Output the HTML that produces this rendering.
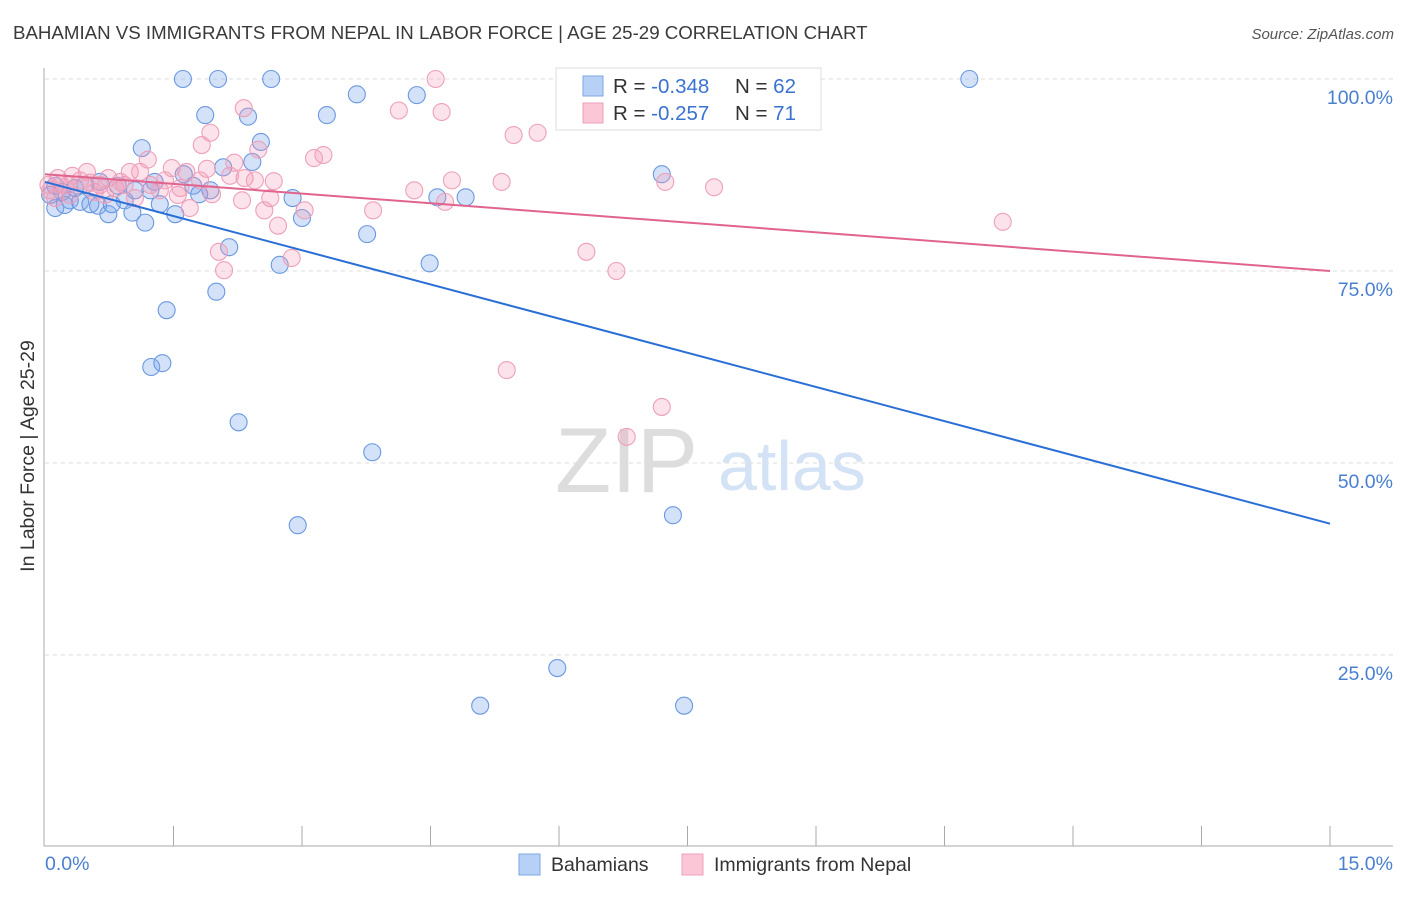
<!DOCTYPE html>
<html><head><meta charset="utf-8"><style>
body{margin:0;background:#fff;font-family:"Liberation Sans",sans-serif}
svg text{font-family:"Liberation Sans",sans-serif}
</style></head><body>
<svg id="c" width="1406" height="892">
<text x="13" y="39" font-size="18.7" fill="#3a3a3a">BAHAMIAN VS IMMIGRANTS FROM NEPAL IN LABOR FORCE | AGE 25-29 CORRELATION CHART</text>
<text x="1394" y="39" font-size="15" fill="#555" font-style="italic" text-anchor="end">Source: ZipAtlas.com</text>
<text x="555" y="492" font-size="92" fill="#ddd" font-family="Liberation Serif">ZIP</text>
<text x="718" y="490" font-size="70" fill="#d3e2f5">atlas</text>
<text transform="translate(34,456) rotate(-90)" font-size="19.5" fill="#333" text-anchor="middle">In Labor Force | Age 25-29</text>
<g id="grid"></g><g id="pts"></g><g id="trend"></g>
<g>
<rect x="556" y="68" width="265" height="62" fill="#fff" stroke="#ddd"/>
<rect x="583" y="76" width="20" height="20" fill="#b7d0f5" stroke="#7ea6e4"/>
<rect x="583" y="103" width="20" height="20" fill="#fbc6d6" stroke="#eda0b9"/>
<text x="613" y="93" font-size="20.5" fill="#333">R = <tspan fill="#3a72d0">-0.348</tspan><tspan x="735">N = </tspan><tspan fill="#3a72d0">62</tspan></text>
<text x="613" y="120" font-size="20.5" fill="#333">R = <tspan fill="#3a72d0"> -0.257</tspan><tspan x="735">N = </tspan><tspan fill="#3a72d0"> 71</tspan></text>
</g>
<g>
<rect x="519" y="854" width="21" height="21" fill="#b7d0f5" stroke="#7ea6e4"/>
<text x="551" y="871" font-size="19.5" fill="#333">Bahamians</text>
<rect x="682" y="854" width="21" height="21" fill="#fbc6d6" stroke="#eda0b9"/>
<text x="714" y="871" font-size="19.5" fill="#333">Immigrants from Nepal</text>
</g>
</svg>
<script>
const yTicks=[25,50,75,100];
const yTickLabels=["25.0%","50.0%","75.0%","100.0%"];
const xTickCount=10;
const xLabels=["0.0%","15.0%"];
const blueX=[1.61,2.02,2.64,10.79,3.64,4.34,1.87,2.37,3.29,2.52,1.13,2.42,2.08,7.20,1.62,1.28,0.64,1.73,1.93,1.80,2.89,4.91,4.58,0.12,0.20,0.29,0.41,0.53,0.62,0.74,0.93,1.02,1.17,1.34,1.52,0.12,0.47,0.85,3.00,3.76,2.15,2.74,4.49,2.00,1.42,1.24,1.37,2.26,3.82,2.95,7.33,5.98,5.08,7.46,0.06,0.23,0.35,0.78,1.05,1.23];
const blueY=[100,100,100,100,98.0,97.9,95.3,95.1,95.3,91.8,91.0,89.2,88.5,87.6,87.6,86.6,86.6,86.1,85.5,85.0,84.5,84.6,84.6,86.1,85.3,84.2,84.0,83.7,83.5,82.4,84.2,82.6,81.3,83.7,82.4,83.2,86.2,86.1,81.9,79.8,78.1,75.8,76.0,72.3,69.9,62.5,63.0,55.3,51.4,41.9,43.2,23.3,18.4,18.4,84.9,83.6,85.8,83.7,85.5,85.5];
const pinkX=[4.56,6.21,2.32,4.13,4.63,5.47,5.75,1.93,1.83,2.49,3.25,3.14,1.20,1.48,1.65,1.89,2.21,2.33,2.16,2.67,0.99,1.11,0.49,0.32,0.18,0.64,0.82,0.93,1.34,1.55,1.95,2.30,2.63,4.31,4.75,5.33,7.24,7.81,11.18,4.67,3.83,3.03,2.56,1.69,2.72,2.03,2.09,2.88,6.32,6.67,5.39,7.20,6.79,0.06,0.12,0.27,0.41,0.58,0.74,0.88,1.23,1.40,0.04,0.15,0.53,1.05,1.81,2.45,1.58,0.29,0.70];
const pinkY=[100,100,96.2,95.9,95.7,92.7,93.0,93.0,91.4,90.8,90.1,89.7,89.5,88.4,87.9,88.3,89.1,87.1,87.4,86.7,87.9,87.9,87.9,87.4,86.3,86.2,85.8,86.2,85.5,84.9,85.0,84.2,84.5,85.5,86.8,86.6,86.6,85.9,81.4,84.0,82.9,82.9,82.9,83.2,80.9,77.5,75.1,76.7,77.5,75.0,62.1,57.3,53.4,85.5,84.5,86.2,86.8,85.3,87.1,86.6,86.2,86.8,86.2,87.1,86.5,84.5,86.8,86.8,85.8,84.9,84.9];
const blueTrend=[86.6,42.1];
const pinkTrend=[87.6,75.0];
const X=v=>45+v/15*1285, Y=v=>847-v*7.68;
const NS="http://www.w3.org/2000/svg";
function mk(t,a,p){const e=document.createElementNS(NS,t);for(const k in a)e.setAttribute(k,a[k]);p.appendChild(e);return e;}
const g=document.getElementById('grid');
yTicks.forEach((v,i)=>{
 const l=mk('line',{x1:45,x2:1393,y1:Y(v),y2:Y(v),stroke:'#ddd','stroke-dasharray':'4,4'},g);
 
 
 const t=mk('text',{x:1393,y:Y(v)+25,'font-size':19.5,fill:'#4a7fd0','text-anchor':'end'},g);
 t.textContent=yTickLabels[i];
 
 
});
mk('line',{x1:44,x2:44,y1:68,y2:846,stroke:'#aaa'},g);
mk('line',{x1:44,x2:1393,y1:846,y2:846,stroke:'#aaa'},g);
for(let i=1;i<=xTickCount;i++){const l=mk('line',{x1:X(i*1.5),x2:X(i*1.5),y1:826,y2:846,stroke:'#aaa'},g);
 
 }
[[0,45,'start'],[1,1393,'end']].forEach(([i,x,a])=>{const t=mk('text',{x:x,y:870,'font-size':19.5,fill:'#4a7fd0','text-anchor':a},g);t.textContent=xLabels[i];
 
 });
const p=document.getElementById('pts');
blueX.forEach((v,i)=>{const c=mk('circle',{cx:X(v),cy:Y(blueY[i]),r:8.5,fill:'rgba(120,165,235,0.32)',stroke:'#6a98e0','stroke-width':1.1},p);
 
 });
pinkX.forEach((v,i)=>{const c=mk('circle',{cx:X(v),cy:Y(pinkY[i]),r:8.5,fill:'rgba(245,150,180,0.28)',stroke:'#eda0b9','stroke-width':1.1},p);
 
 });
const tr=document.getElementById('trend');
const bl=mk('line',{x1:X(0),x2:X(15),y1:Y(blueTrend[0]),y2:Y(blueTrend[1]),stroke:'#2a6fd6','stroke-width':2},tr);


const pl=mk('line',{x1:X(0),x2:X(15),y1:Y(pinkTrend[0]),y2:Y(pinkTrend[1]),stroke:'#e0648e','stroke-width':2},tr);


</script>
</body></html>
